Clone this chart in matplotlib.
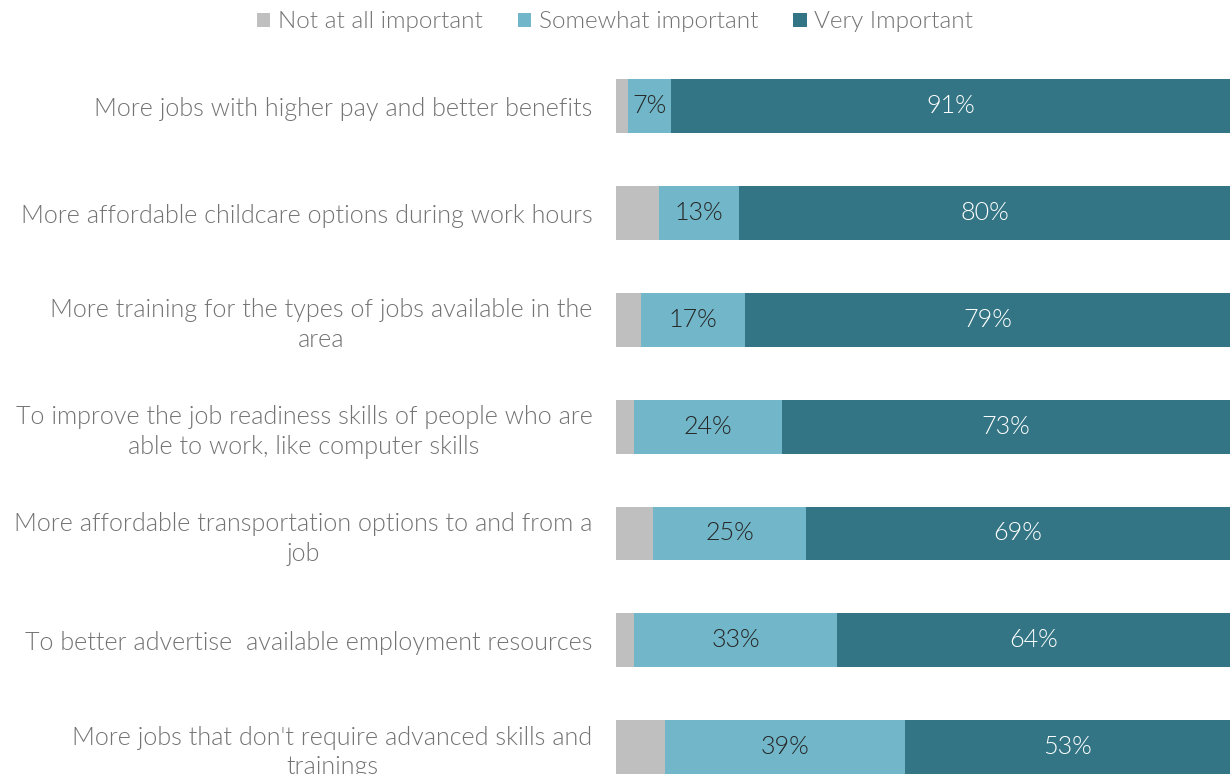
import matplotlib
matplotlib.use("Agg")
import matplotlib.pyplot as plt
import numpy as np

categories = [
    "More jobs with higher pay and better benefits",
    "More affordable childcare options during work hours",
    "More training for the types of jobs available in the\narea",
    "To improve the job readiness skills of people who are\nable to work, like computer skills",
    "More affordable transportation options to and from a\njob",
    "To better advertise  available employment resources",
    "More jobs that don't require advanced skills and\ntrainings",
]
not_important = [2, 7, 4, 3, 6, 3, 8]
somewhat = [7, 13, 17, 24, 25, 33, 39]
very = [91, 80, 79, 73, 69, 64, 53]
series_names = ["Not at all important", "Somewhat important", "Very Important"]
colors = ["#BFBFBF", "#71B7C9", "#337585"]

plt.rcParams['font.family'] = ['Lato', 'DejaVu Sans']
plt.rcParams['font.weight'] = 300
TXT = "#737373"
FS = 18.1

fig = plt.figure(figsize=(12.30, 7.74), dpi=100)
W, H = 1230, 774
left, right = 616, 1230
top_px, bot_px = 53, 800.4
ax = fig.add_axes([left / W, 1 - bot_px / H, (right - left) / W, (bot_px - top_px) / H])

y = np.arange(len(categories))
h = 0.505
lefts = np.zeros(len(categories))
bars = []
for vals, name, c in zip([not_important, somewhat, very], series_names, colors):
    b = ax.barh(y, vals, left=lefts, height=h, color=c, label=name)
    bars.append(b)
    lefts = lefts + np.array(vals)

for b, vals, tc in [(bars[1], somewhat, "#262626"), (bars[2], very, "white")]:
    for rect, v in zip(b, vals):
        ax.text(rect.get_x() + rect.get_width() / 2, rect.get_y() + rect.get_height() / 2,
                f"{v}%", ha="center", va="center", color=tc, fontsize=FS, fontweight=300)

ax.set_xlim(0, 100)
ax.set_ylim(len(categories) - 0.5, -0.5)
ax.set_yticks(y)
ax.set_yticklabels(categories, fontsize=FS, color=TXT, fontweight=300)
for t in ax.get_yticklabels():
    t.set_multialignment("center")
    t.set_linespacing(1.3)
ax.tick_params(axis="y", length=0, pad=17)
ax.set_xticks([])
for s in ax.spines.values():
    s.set_visible(False)

fig.legend(handles=bars, labels=series_names, loc="center", bbox_to_anchor=(0.5, 1 - 22 / H),
           ncol=3, frameon=False, handlelength=0.55, handleheight=0.55,
           handletextpad=0.3, columnspacing=1.45, labelcolor=TXT,
           prop={"weight": 300, "size": 17.5})

fig.savefig("out.png", dpi=100)
